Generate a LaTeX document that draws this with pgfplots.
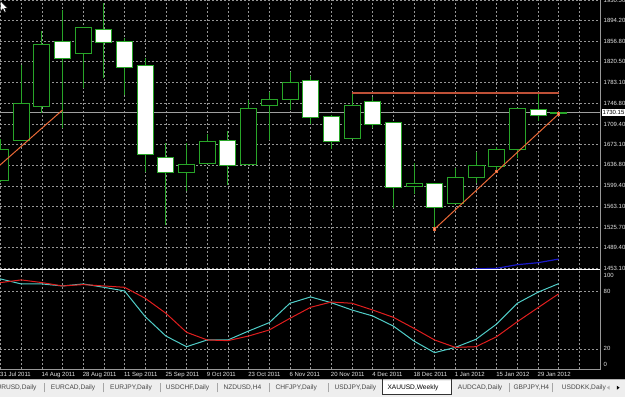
\documentclass[border=0pt]{standalone}
\usepackage{fontspec}
\setmainfont{Liberation Sans}
\usepackage{pgfplots}
\pgfplotsset{compat=1.18}
\definecolor{cgreen}{RGB}{40,165,40}
\definecolor{trend}{RGB}{235,105,55}
\definecolor{resistc}{RGB}{190,80,55}
\definecolor{mablue}{RGB}{25,25,200}
\definecolor{stk}{RGB}{80,205,200}
\definecolor{std}{RGB}{225,30,30}
\definecolor{gridc}{RGB}{150,150,150}
\definecolor{labc}{RGB}{228,228,228}
\definecolor{tabbg}{RGB}{238,238,238}
\definecolor{tabtxt}{RGB}{70,70,70}
% candle: fill, index, low, body bottom, body top, high
\newcommand{\cndl}[6]{%
  \pgfmathsetmacro\cxl{#2-0.387}\pgfmathsetmacro\cxr{#2+0.387}%
  \edef\cndltmp{\noexpand\addplot[draw=cgreen, line width=0.8pt] coordinates {(#2,#3) (#2,#6)};
  \noexpand\addplot[draw=cgreen, fill=#1, line width=0.8pt] coordinates {(\cxl,#4) (\cxr,#4) (\cxr,#5) (\cxl,#5)} --cycle;}%
  \cndltmp}
\newcommand{\lab}{\fontsize{6}{7}\selectfont}
\begin{document}
\begin{tikzpicture}
\useasboundingbox (0pt,0pt) rectangle (625pt,397pt);
\clip (0pt,0pt) rectangle (625pt,397pt);
\fill[black] (0pt,0pt) rectangle (625pt,397pt);
% ---------------- price panel ----------------
\begin{axis}[at={(0pt,128pt)}, anchor=south west, scale only axis,
  width=600pt, height=269pt,
  xmin=-0.024, xmax=29.0, ymin=1451.3, ymax=1930.5,
  axis line style={draw=none}, major tick length=0pt,
  xtick={0,...,29}, xticklabels={},
  ytick={1453.10,1489.40,1525.70,1563.10,1599.40,1636.80,1673.10,1709.40,1746.80,1783.10,1820.50,1856.80,1894.20,1930.50},
  yticklabels={1453.10,1489.40,1525.70,1563.10,1599.40,1636.80,1673.10,1709.40,1746.80,1783.10,1820.50,1856.80,1894.20,1930.50},
  yticklabel pos=right,
  yticklabel style={font=\lab, text=labc, anchor=west, inner sep=0pt, xshift=3.5pt},
  grid=major, grid style={gridc, dash pattern=on 2pt off 2pt, line width=0.5pt},
  extra y ticks={1730.15}, extra y tick labels={1730.15},
  extra y tick style={grid=none, yticklabel style={fill=white, text=black, inner sep=1pt, xshift=-2pt}},
  clip=true]
\addplot[draw=gray!75, line width=0.6pt] coordinates {(-1,1730.15) (30,1730.15)};
\cndl{black}{0}{1606}{1609.8}{1664.5}{1682.3}
\cndl{black}{1}{1680}{1681}{1746.4}{1814.6}
\cndl{black}{2}{1729.2}{1740.4}{1851.5}{1875.7}
\cndl{white}{3}{1701.9}{1826.6}{1857.4}{1912.6}
\cndl{black}{4}{1773.1}{1835.5}{1881.8}{1882.5}
\cndl{white}{5}{1791.0}{1855.6}{1878.2}{1924.5}
\cndl{white}{6}{1761.2}{1810.5}{1856.1}{1862.2}
\cndl{white}{7}{1624.6}{1655.6}{1814.1}{1826.6}
\cndl{white}{8}{1529.7}{1622.8}{1649.5}{1675.2}
\cndl{black}{9}{1590.8}{1622.8}{1637.8}{1676.3}
\cndl{black}{10}{1638}{1639.6}{1679.3}{1691.2}
\cndl{white}{11}{1600.9}{1636.0}{1680.5}{1697.1}
\cndl{black}{12}{1636}{1637.1}{1737.5}{1752.3}
\cndl{black}{13}{1681.1}{1742.9}{1753.6}{1767.1}
\cndl{black}{14}{1734.5}{1753.6}{1783.8}{1802.7}
\cndl{white}{15}{1709.6}{1721.5}{1786.7}{1795.1}
\cndl{white}{16}{1665.0}{1679.3}{1722.6}{1725.6}
\cndl{black}{17}{1683}{1684.1}{1742.9}{1764.5}
\cndl{white}{18}{1701.9}{1709.0}{1749.3}{1758.2}
\cndl{white}{19}{1559.4}{1596.1}{1711.9}{1712.5}
\cndl{black}{20}{1584.4}{1597.9}{1603.9}{1639.6}
\cndl{white}{21}{1522.6}{1561.2}{1603.9}{1604.5}
\cndl{black}{22}{1567}{1568.3}{1614.6}{1630.7}
\cndl{black}{23}{1603.9}{1613.9}{1636.0}{1660.2}
\cndl{black}{24}{1627.6}{1634.8}{1664.5}{1669.1}
\cndl{black}{25}{1648.5}{1664.5}{1737.5}{1738}
\cndl{white}{26}{1715.4}{1725.6}{1735.7}{1762.5}
\cndl{cgreen}{27}{1728}{1728.6}{1730.15}{1731}
\addplot[draw=mablue, line width=1.2pt] coordinates {(22,1446) (23,1451.5) (24,1452.5) (25,1459) (26,1462.5) (27,1469)};
\addplot[draw=resistc, line width=1.7pt] coordinates {(17,1764.5) (27,1764.5)};
\addplot[draw=trend, line width=1pt] coordinates {(-1,1604.8) (3,1734.5)};
\addplot[draw=trend, line width=1pt, mark=square*, mark size=1.3pt, mark options={fill=trend!60!white, draw=trend}] coordinates {(21,1522.6) (24,1625.0) (27,1727.4)};
\end{axis}
% ---------------- stochastic panel ----------------
\begin{axis}[at={(0pt,28pt)}, anchor=south west, scale only axis,
  width=600pt, height=99pt,
  xmin=-0.024, xmax=29.0, ymin=-1, ymax=102,
  axis line style={draw=none}, major tick length=0pt, minor tick length=0pt,
  xtick={0,2,...,26}, minor xtick={1,3,...,27,28,29},
  xticklabels={31 Jul 2011,14 Aug 2011,28 Aug 2011,11 Sep 2011,25 Sep 2011,9 Oct 2011,23 Oct 2011,6 Nov 2011,20 Nov 2011,4 Dec 2011,18 Dec 2011,1 Jan 2012,15 Jan 2012,29 Jan 2012},
  xticklabel style={font=\lab, text=labc, anchor=north west, inner sep=0pt, xshift=-0.5pt, yshift=-3pt},
  ytick={20,80}, yticklabels={20,80}, yticklabel pos=right,
  yticklabel style={font=\lab, text=labc, anchor=west, inner sep=0pt, xshift=3.5pt},
  extra y ticks={3.9,96.8}, extra y tick labels={0,100}, extra y tick style={grid=none},
  grid=both, grid style={gridc, dash pattern=on 2pt off 2pt, line width=0.5pt},
  minor grid style={gridc, dash pattern=on 2pt off 2pt, line width=0.5pt},
  clip=true]
\addplot[draw=stk, line width=1pt] coordinates {(-1,95) (0,92.7) (1,87.5) (2,87.5) (3,85.4) (4,87.5) (5,84) (6,80.2) (7,53.5) (8,33.3) (9,22.2) (10,29.2) (11,29.2) (12,38.5) (13,47.2) (14,67.4) (15,74) (16,68) (17,60.4) (18,54.2) (19,43.7) (20,28.1) (21,16) (22,21.5) (23,29.9) (24,45.8) (25,67.4) (26,78.9) (27,87.8)};
\addplot[draw=std, line width=1pt] coordinates {(-1,86) (0,88.9) (1,91.7) (2,88.9) (3,85.4) (4,86.8) (5,85.4) (6,84) (7,72.6) (8,57) (9,37.2) (10,29.2) (11,28.5) (12,33.3) (13,39.6) (14,51.7) (15,63.2) (16,68.7) (17,67.4) (18,60.4) (19,52.8) (20,41.3) (21,29.2) (22,21.5) (23,22.2) (24,32.6) (25,48.2) (26,62.8) (27,77.2)};
\end{axis}
\begin{scope}[x=1pt,y=1pt]
% borders
\draw[white, line width=1.5pt] (0,127.5) -- (600,127.5);
\draw[gray!80, line width=0.8pt] (600,397) -- (600,127);
\draw[gray!80, line width=0.8pt] (0,28) -- (600,28) -- (600,127);
% tab bar
\fill[tabbg] (0,0) rectangle (625,18);
\draw[gray!60] (0,18) -- (625,18);
\fill[white] (382.3,3) rectangle (451,16);
\draw[gray!40!black, line width=0.6pt] (382.3,17.5) -- (382.3,3) -- (451,3) -- (451,17.5);
\begin{scope}[every node/.style={anchor=west, inner sep=0pt, text=tabtxt, font=\fontsize{6.6}{8}\selectfont}]
\node[anchor=east] at (36.7,9.3) {EURUSD,Daily};
\node at (50.7,9.3) {EURCAD,Daily};
\node at (110,9.3) {EURJPY,Daily};
\node at (165.7,9.3) {USDCHF,Daily};
\node at (223.3,9.3) {NZDUSD,H4};
\node at (275.3,9.3) {CHFJPY,Daily};
\node at (334.3,9.3) {USDJPY,Daily};
\node[text=black] at (387.3,9.3) {XAUUSD,Weekly};
\node at (457.7,9.3) {AUDCAD,Daily};
\node at (513.3,9.3) {GBPJPY,H4};
\node at (561.7,9.3) {USDDKK,Daily};
\end{scope}
\foreach \s in {44,103,160,217.3,269.3,328.3,509,552.3}{\draw[gray!70, line width=0.6pt] (\s,4.5) -- (\s,14);}
\fill[gray!60] (606.8,9.3) -- (609.6,11.3) -- (609.6,7.3) -- cycle;
\fill[black] (619.6,9.3) -- (616.8,11.3) -- (616.8,7.3) -- cycle;
% mouse cursor
\filldraw[fill=white, draw=black, line width=0.3pt] (0.5,396) -- (0.5,386) -- (3,388.3) -- (4.6,384.7) -- (6,385.3) -- (4.5,388.8) -- (7.5,388.8) -- cycle;
\end{scope}
\end{tikzpicture}
\end{document}
